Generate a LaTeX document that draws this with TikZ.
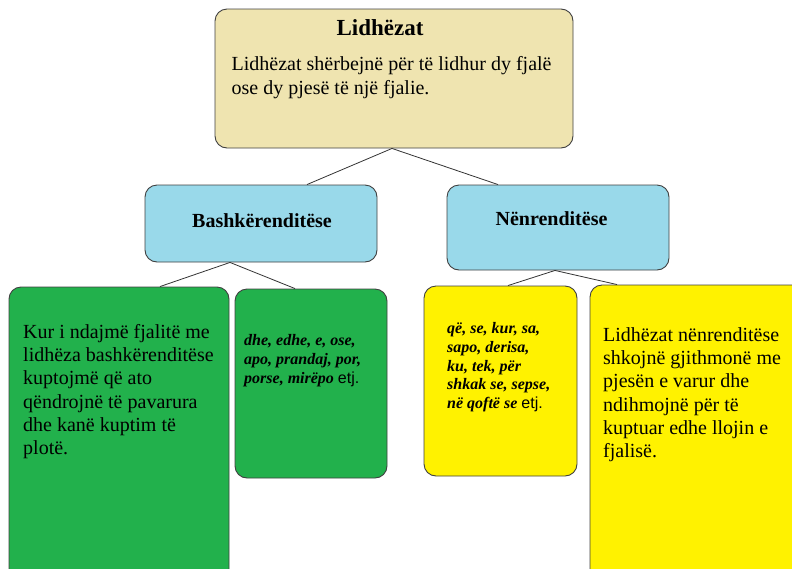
\documentclass[tikz,border=0pt]{standalone}
\usepackage{fontspec}
\setmainfont{Liberation Serif}
\newfontfamily\arialf{Liberation Sans}
\usetikzlibrary{calc}
\definecolor{tanfill}{HTML}{EFE4B0}
\definecolor{bluefill}{HTML}{99D9EA}
\definecolor{greenfill}{HTML}{22B14C}
\definecolor{yellowfill}{HTML}{FFF200}
\definecolor{boxline}{HTML}{404040}
\definecolor{connline}{HTML}{333333}
\begin{document}
\begin{tikzpicture}[x=1pt,y=-1pt,
  box/.style={draw=boxline, line width=0.9pt, rounded corners=12pt, inner sep=0pt},
  conn/.style={draw=connline, line width=0.8pt},
  txt/.style={anchor=north west, inner sep=0pt, align=left},
  bigtxt/.style={txt, font=\fontsize{20}{23.3}\selectfont},
  smalltxt/.style={txt, font=\fontsize{16}{18.9}\selectfont\bfseries\itshape},
  headtxt/.style={anchor=base, inner sep=0pt, font=\fontsize{20}{23}\selectfont\bfseries}]
\useasboundingbox (0,0) rectangle (792,568);
\clip (0,0) rectangle (792,568);
% boxes
\node[box, fill=tanfill, minimum width=358pt, minimum height=139pt] (top) at (394,78.5) {};
\node[box, fill=bluefill, minimum width=232pt, minimum height=77pt] (b1) at (261,223.5) {};
\node[box, fill=bluefill, minimum width=222pt, minimum height=85pt] (b2) at (558,227.5) {};
\node[box, fill=greenfill, minimum width=220pt, minimum height=303pt] (g1) at (119,438.5) {};
\node[box, fill=greenfill, minimum width=152pt, minimum height=189pt] (g2) at (311,383.5) {};
\node[box, fill=yellowfill, minimum width=153pt, minimum height=190pt] (y1) at (500.5,381) {};
\node[box, fill=yellowfill, minimum width=230pt, minimum height=305pt] (y2) at (705,437.5) {};
% connectors
\draw[conn] ($(top.south)+(-2,0)$) -- ($(b1.north)+(46,0)$);
\draw[conn] ($(top.south)+(-2,0)$) -- ($(b2.north)+(-60,0)$);
\draw[conn] ($(b1.south)+(-31,0)$) -- ($(g1.north)+(41,0)$);
\draw[conn] ($(b1.south)+(-31,0)$) -- ($(g2.north)+(-16,0)$);
\draw[conn] ($(b2.south)+(-3,0)$) -- ($(y1.north)+(7.5,0)$);
\draw[conn] ($(b2.south)+(-3,0)$) -- ($(y2.north)+(-88,0)$);
% texts
\node[anchor=base, inner sep=0pt, font=\fontsize{23}{27}\selectfont\bfseries] (title) at (380,35) {Lidhëzat};
\node[bigtxt] (topbody) at (231.5,54.4) {\strut Lidhëzat shërbejnë për të lidhur dy fjalë\\ose dy pjesë të një fjalie.};
\node[headtxt] (b1txt) at (262,227) {Bashkërenditëse};
\node[headtxt] (b2txt) at (551.5,225) {Nënrenditëse};
\node[bigtxt] (g1txt) at (23,321.7) {\strut Kur i ndajmë fjalitë me\\lidhëza bashkërenditëse\\kuptojmë që ato\\qëndrojnë të pavarura\\dhe kanë kuptim të\\plotë.};
\node[smalltxt] (g2txt) at (244,331.8) {\strut dhe, edhe, e, ose,\\apo, prandaj, por,\\porse, mirëpo {\arialf\mdseries\upshape etj.}};
\node[smalltxt] (y1txt) at (447,319.8) {\strut që, se, kur, sa,\\sapo, derisa,\\ku, tek, për\\shkak se, sepse,\\në qoftë se {\arialf\mdseries\upshape etj.}};
\node[bigtxt] (y2txt) at (603,324.7) {\strut Lidhëzat nënrenditëse\\shkojnë gjithmonë me\\pjesën e varur dhe\\ndihmojnë për të\\kuptuar edhe llojin e\\fjalisë.};
\end{tikzpicture}
\end{document}
